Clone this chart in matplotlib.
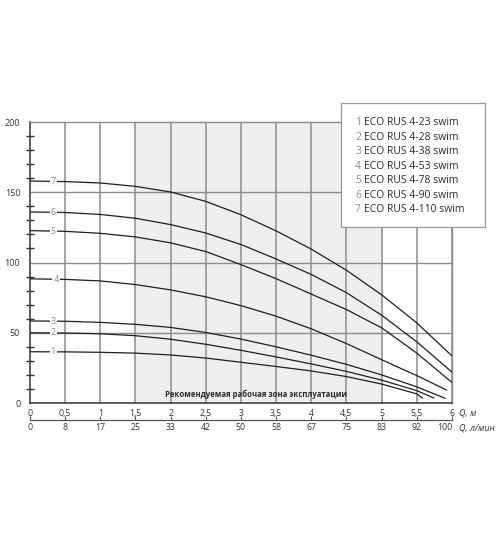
import numpy as np
import matplotlib
matplotlib.use("Agg")
import matplotlib.pyplot as plt
from matplotlib.patches import Rectangle

plt.rcParams['font.family'] = ['Open Sans', 'DejaVu Sans']

# расход, м3/ч
q = [0, 0.5, 1, 1.5, 2, 2.5, 3, 3.5, 4, 4.5, 5, 5.5]
# напор, м  (последняя точка каждой кривой задана отдельно)
h1 = [36.5, 36.4, 36.1, 35.5, 34.2, 32.0, 29.0, 26.0, 22.8, 18.8, 13.5, 6.5]
h2 = [50.0, 49.8, 49.3, 47.9, 45.4, 41.8, 37.5, 32.8, 27.8, 22.5, 16.3, 8.8]
h3 = [58.4, 58.2, 57.4, 56.0, 53.8, 50.2, 45.5, 40.0, 34.0, 27.5, 20.0, 11.5]
h4 = [88.4, 88.0, 86.9, 84.3, 80.5, 75.6, 69.3, 61.8, 52.8, 42.3, 30.8, 19.5]
h5 = [122.7, 122.2, 120.8, 118.2, 114.0, 107.8, 98.5, 88.5, 77.5, 66.5, 53.5, 35.5]
h6 = [136.0, 135.6, 134.2, 131.5, 127.0, 121.0, 112.8, 102.5, 91.5, 78.5, 62.5, 43.5]
h7 = [158.0, 157.6, 156.6, 154.2, 150.2, 143.5, 134.0, 122.5, 109.5, 94.5, 77.0, 57.0]
q_end = [5.58, 5.74, 5.90, 5.92, 6.0, 6.0, 6.0]
h_end = [3.6, 3.6, 3.4, 9.3, 14.6, 22.0, 33.5]
curves = [h1, h2, h3, h4, h5, h6, h7]
label_q = [0.33, 0.33, 0.33, 0.37, 0.33, 0.33, 0.33]

names = ["ECO RUS 4-23 swim", "ECO RUS 4-28 swim", "ECO RUS 4-38 swim",
         "ECO RUS 4-53 swim", "ECO RUS 4-78 swim", "ECO RUS 4-90 swim",
         "ECO RUS 4-110 swim"]

q_ticks = [0, 0.5, 1, 1.5, 2, 2.5, 3, 3.5, 4, 4.5, 5, 5.5, 6]
q_labels = ["0", "0,5", "1", "1,5", "2", "2,5", "3", "3,5", "4", "4,5", "5", "5,5", "6"]
lpm_labels = ["0", "8", "17", "25", "33", "42", "50", "58", "67", "75", "83", "92", "100"]

fig = plt.figure(figsize=(5, 5.38), dpi=100)
ax = fig.add_axes([0.06, 0.2509, 0.844, 0.5223])
ax.set_xlim(0, 6)
ax.set_ylim(0, 200)

# рекомендуемая зона
ax.axvspan(1.5, 5, color="#eef0ef", zorder=0, lw=0)
for x in q_ticks[1:]:
    ax.axvline(x, color="#8c8c8c", lw=1.1, zorder=1)
for y in [50, 100, 150]:
    ax.axhline(y, color="#8c8c8c", lw=1.0, zorder=1)

for i, h in enumerate(curves):
    xs = q + [q_end[i]]
    ys = h + [h_end[i]]
    ax.plot(xs, ys, color="#1e1e1e", lw=0.9, zorder=3, solid_joinstyle="round")
    yl = np.interp(label_q[i], xs, ys)
    ax.text(label_q[i], yl, str(i + 1), color="#8a8a8a", fontsize=6.5,
            ha="center", va="center", zorder=4,
            bbox=dict(boxstyle="square,pad=0.12", fc="white", ec="none"))

ax.text(3.22, 6.4, "Рекомендуемая рабочая зона эксплуатации", fontsize=5.6,
        fontweight="bold", color="#2a2a2a", ha="center", va="center", zorder=4)

for s in ["top", "right"]:
    ax.spines[s].set_color("#8c8c8c")
    ax.spines[s].set_linewidth(1.0)
for s in ["left", "bottom"]:
    ax.spines[s].set_color("#333333")
    ax.spines[s].set_linewidth(1.1)

ax.set_yticks([0, 50, 100, 150, 200])
ax.set_yticks(np.arange(10, 200, 10), minor=True)
ax.tick_params(axis="y", which="major", length=0, pad=7, labelsize=6.5, labelcolor="#333333")
ax.tick_params(axis="y", which="minor", direction="inout", length=6, width=1.0, color="#333333")
ax.set_xticks(q_ticks, labels=q_labels)
ax.tick_params(axis="x", length=0, pad=4, labelsize=6.3, labelcolor="#333333")

sec = ax.secondary_xaxis(-0.0605)
sec.set_xticks(q_ticks, labels=lpm_labels)
sec.tick_params(axis="x", direction="in", length=3, width=0.8, color="#555555",
                pad=2, labelsize=6.3, labelcolor="#333333")
sec.spines["bottom"].set_color("#555555")
sec.spines["bottom"].set_linewidth(0.9)
sec.get_xticklabels()[-1].set_ha("right")

fig.text(459 / 500, 1 - 413 / 538, "Q, м", fontsize=6.5, style="italic",
         color="#333333", ha="left", va="center")
fig.text(459 / 500, 1 - 428 / 538, "Q, л/мин", fontsize=6.5, style="italic",
         color="#333333", ha="left", va="center")

# легенда
fig.patches.append(Rectangle((340.7 / 500, 1 - 226.7 / 538), 144.3 / 500, 124 / 538,
                             transform=fig.transFigure, fc="white", ec="#999999",
                             lw=0.9, zorder=5))
for i, name in enumerate(names):
    yy = 1 - (122.7 + i * 14.55) / 538
    fig.text(355 / 500, yy, str(i + 1), fontsize=7.5, color="#8a8a8a",
             ha="left", va="center", zorder=6)
    fig.text(364 / 500, yy, name, fontsize=7.5, color="#2a2a2a",
             ha="left", va="center", zorder=6)

fig.savefig("out.png", dpi=100)
